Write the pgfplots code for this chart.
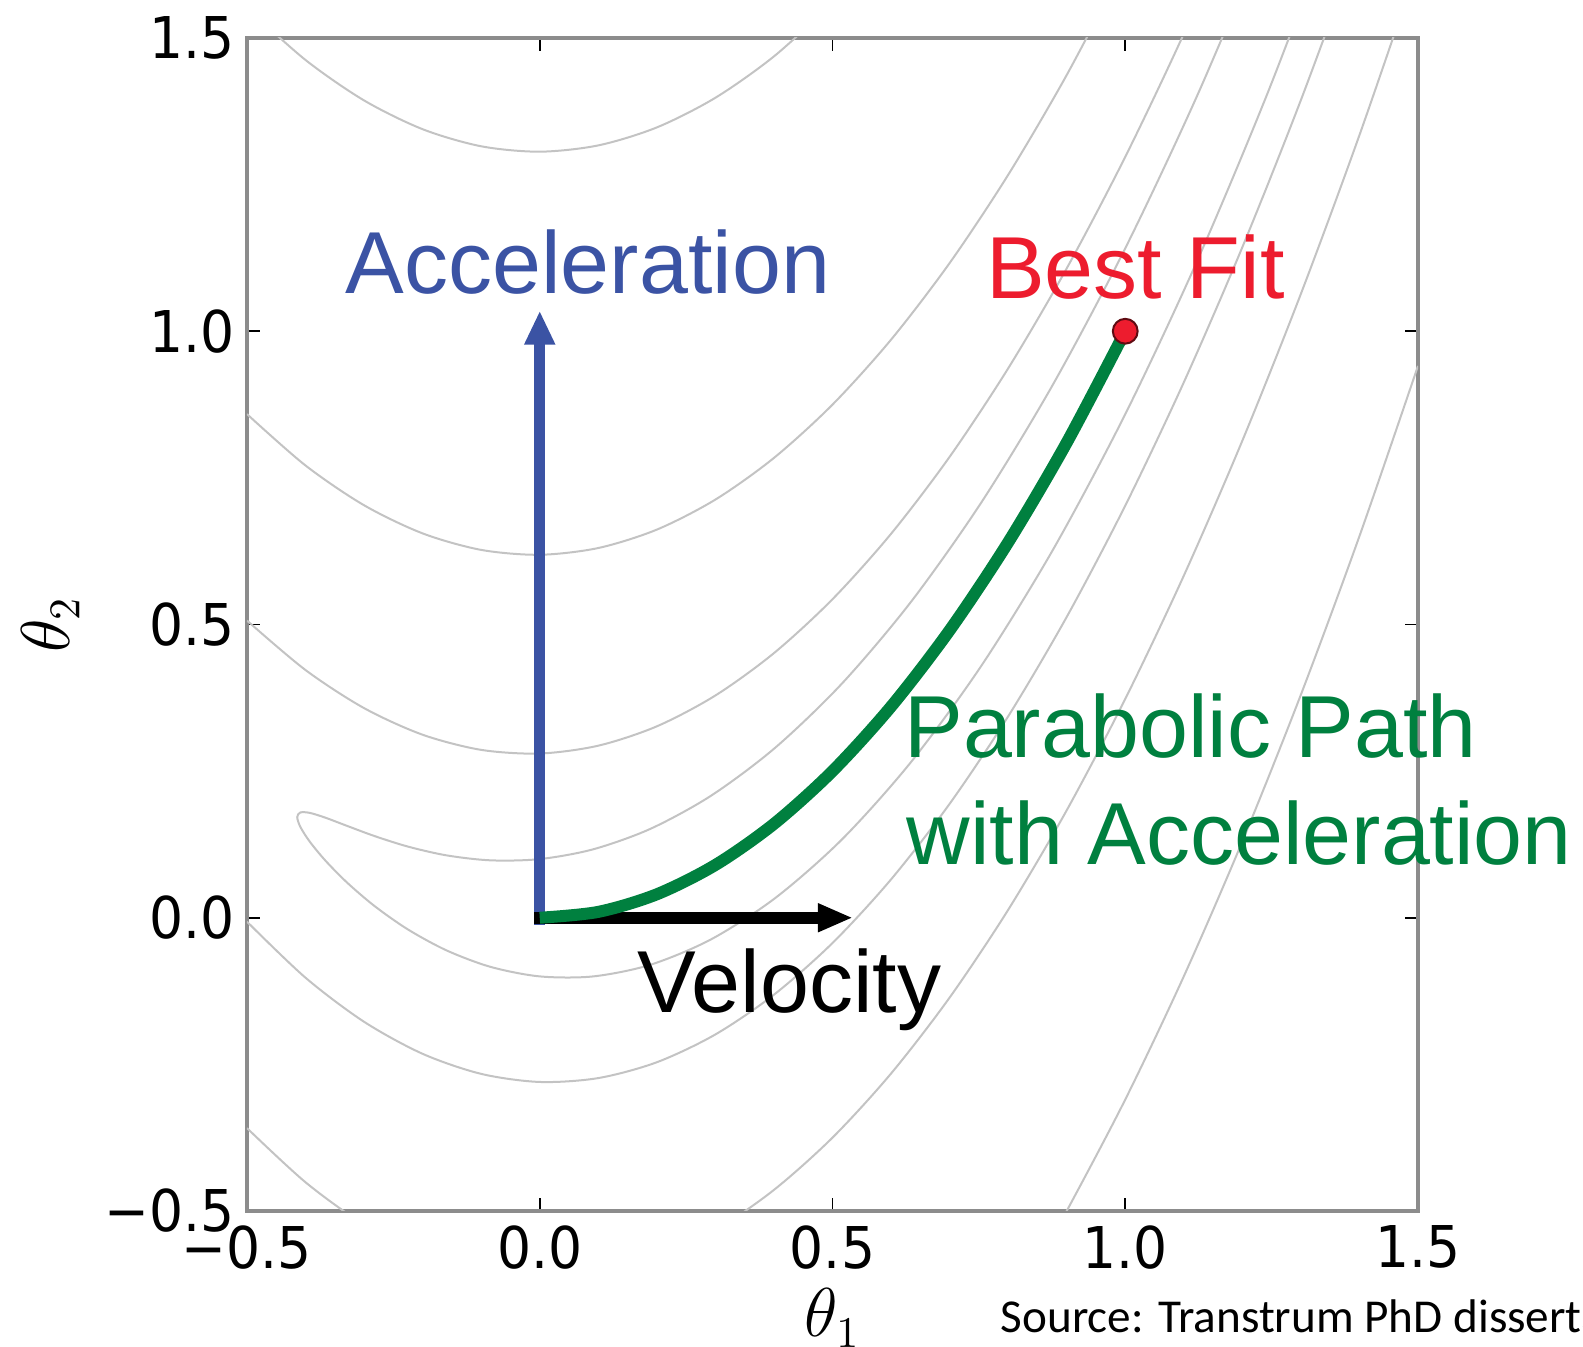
\documentclass[border=0pt]{standalone}
\usepackage{pgfplots}
\pgfplotsset{compat=1.18}
\usetikzlibrary{arrows.meta}
\usepackage{fontspec}
\setmainfont{Liberation Sans}
\newfontfamily\tickfont{DejaVu Sans}[FakeStretch=0.93]
\newfontfamily\srcfont{Carlito}
\definecolor{accblue}{RGB}{59,83,164}
\definecolor{fitred}{RGB}{237,28,46}
\definecolor{pathgreen}{RGB}{0,128,63}
\definecolor{contourgray}{RGB}{195,195,195}
\definecolor{axisgray}{RGB}{140,140,140}
\begin{document}
\begin{tikzpicture}
\begin{axis}[
  scale only axis, width=292.75pt, height=293.25pt,
  xmin=-0.5, xmax=1.5, ymin=-0.5, ymax=1.5,
  axis line style={axisgray, line width=1.1pt},
  xtick={-0.5,0,0.5,1,1.5}, ytick={-0.5,0,0.5,1,1.5},
  xticklabels={−0.5,0.0,0.5,1.0,1.5},
  yticklabels={−0.5,0.0,0.5,1.0,1.5},
  tick align=inside, tick pos=both,
  major tick length=3.25pt,
  tick style={black, line width=0.4pt},
  tick label style={font=\fontsize{14.4}{16}\selectfont\tickfont, inner sep=0pt},
  xticklabel style={yshift=-3.4pt},
  yticklabel style={xshift=-2.8pt},
  xlabel={\fontsize{16}{19}\selectfont$\theta_1$},
  ylabel={\fontsize{16}{19}\selectfont$\theta_2$},
  xlabel style={at={(axis description cs:0.5,-0.0912)}, anchor=center},
  ylabel style={at={(axis description cs:-0.168,0.5)}, anchor=center},
  clip mode=individual,
]
\coordinate (SW) at (rel axis cs:0,0);
% contour level 2 (closed banana)
\addplot[contourgray, line width=0.5pt, smooth] coordinates {
(1.36603,1.72943) (1.24557,1.41218) (1.12326,1.12083) (1.00000,0.85858)
(0.87674,0.62779) (0.75443,0.42989) (0.63397,0.26532) (0.51631,0.13369)
(0.40233,0.03370) (0.29289,-0.03669) (0.18884,-0.08019) (0.09096,-0.10006)
(0.00000,-0.10000) (-0.08335,-0.08396) (-0.15846,-0.05601) (-0.22474,-0.02020)
(-0.28171,0.01959) (-0.32893,0.05983) (-0.36603,0.09738) (-0.39273,0.12968)
(-0.40883,0.15481) (-0.41421,0.17157) (-0.40883,0.17947) (-0.39273,0.17880)
(-0.36603,0.17058) (-0.32893,0.15657) (-0.28171,0.13913) (-0.22474,0.12122)
(-0.15846,0.10623) (-0.08335,0.09785) (0.00000,0.10000) (0.09096,0.11661)
(0.18884,0.15151) (0.29289,0.20826) (0.40233,0.29004) (0.51631,0.39947)
(0.63397,0.53852) (0.75443,0.70843) (0.87674,0.90955) (1.00000,1.14142)
(1.12326,1.40259) (1.24557,1.69072)};
% level 8.84
\addplot[contourgray, line width=0.5pt, smooth] coordinates {
(-0.5,0.50671) (-0.4,0.42230) (-0.3,0.35740) (-0.2,0.31203) (-0.1,0.28622)
(0,0.28) (0.1,0.29337) (0.2,0.32636) (0.3,0.37896) (0.4,0.45120) (0.5,0.54309)
(0.6,0.65462) (0.7,0.78580) (0.8,0.93665) (0.9,1.10715) (1.0,1.29732)
(1.1,1.50715) (1.2,1.73665)};
\addplot[contourgray, line width=0.5pt, smooth] coordinates {
(-0.5,-0.00671) (-0.4,-0.10230) (-0.3,-0.17740) (-0.2,-0.23203) (-0.1,-0.26622)
(0,-0.28) (0.1,-0.27337) (0.2,-0.24636) (0.3,-0.19896) (0.4,-0.13120) (0.5,-0.04309)
(0.6,0.06538) (0.7,0.19420) (0.8,0.34335) (0.9,0.51285) (1.0,0.70268)
(1.1,0.91285) (1.2,1.14335) (1.3,1.39420) (1.4,1.66538)};
% level 39.3
\addplot[contourgray, line width=0.5pt, smooth] coordinates {
(-0.5,0.85869) (-0.4,0.77106) (-0.3,0.70327) (-0.2,0.65531) (-0.1,0.62717)
(0,0.61887) (0.1,0.63040) (0.2,0.66177) (0.3,0.71298) (0.4,0.78402) (0.5,0.87490)
(0.6,0.98562) (0.7,1.11618) (0.8,1.26658) (0.9,1.43682) (1.0,1.62690)};
\addplot[contourgray, line width=0.5pt, smooth] coordinates {
(-0.5,-0.35869) (-0.4,-0.45106) (-0.3,-0.52327) (-0.2,-0.57531) (-0.1,-0.60717)
(0,-0.61887) (0.1,-0.61040) (0.2,-0.58177) (0.3,-0.53298) (0.4,-0.46402) (0.5,-0.37490)
(0.6,-0.26562) (0.7,-0.13618) (0.8,0.01342) (0.9,0.18318) (1.0,0.37310)
(1.1,0.58318) (1.2,0.81342) (1.3,1.06382) (1.4,1.33438) (1.5,1.62510)};
% level 171.6
\addplot[contourgray, line width=0.5pt, smooth] coordinates {
(-0.5,1.55135) (-0.4,1.46246) (-0.3,1.39350) (-0.2,1.34445) (-0.1,1.31534)
(0,1.30614) (0.1,1.31687) (0.2,1.34752) (0.3,1.39809) (0.4,1.46859) (0.5,1.55901)};
\addplot[contourgray, line width=0.5pt, smooth] coordinates {
(0.85,-0.58738) (0.9,-0.49992) (1.0,-0.30996) (1.1,-0.09992) (1.2,0.13019)
(1.3,0.38038) (1.4,0.65065) (1.5,0.94099)};
% arrows
\addplot[accblue, line width=2.75pt, -{Triangle[length=8.5pt,width=7.2pt]}] coordinates {(0,-0.012) (0,1.035)};
\addplot[black, line width=3pt, -{Triangle[length=8.75pt,width=6.6pt]}] coordinates {(-0.009,0) (0.535,0)};
% parabolic path
\addplot[pathgreen, line width=3pt, smooth] coordinates {
(0,0) (0.1,0.01) (0.2,0.04) (0.3,0.09) (0.4,0.16) (0.5,0.25) (0.6,0.36)
(0.7,0.49) (0.8,0.64) (0.9,0.81) (1.0,1.0)};
\addplot[only marks, mark=*, mark size=3.1pt, mark options={fill=fitred, draw=black!60!fitred, line width=0.5pt}] coordinates {(1,1)};
% annotations
\node[anchor=base west, inner sep=0pt, text=accblue, font=\fontsize{22}{26}\selectfont] at (axis cs:-0.3326,1.065) {Acceleration};
\node[anchor=base west, inner sep=0pt, text=fitred, font=\fontsize{22}{26}\selectfont] at (axis cs:0.7613,1.055) {Best Fit};
\node[anchor=base west, inner sep=0pt, text=pathgreen, font=\fontsize{22}{26}\selectfont] at (axis cs:0.6213,0.273) {Parabolic Path};
\node[anchor=base west, inner sep=0pt, text=pathgreen, font=\fontsize{22}{26}\selectfont] at (axis cs:0.6255,0.0916) {with Acceleration};
\node[anchor=base west, inner sep=0pt, text=black, font=\fontsize{22}{26}\selectfont] at (axis cs:0.1661,-0.1624) {Velocity};
\node[anchor=base west, inner sep=0pt, font=\fontsize{11.8}{14}\selectfont\srcfont] at (axis description cs:0.643,-0.1032) {Source: Transtrum PhD dissertation};
\end{axis}
\pgfresetboundingbox
\useasboundingbox ([shift={(-61.75pt,-34pt)}]SW) rectangle ([shift={(334pt,302.75pt)}]SW);
\end{tikzpicture}
\end{document}
